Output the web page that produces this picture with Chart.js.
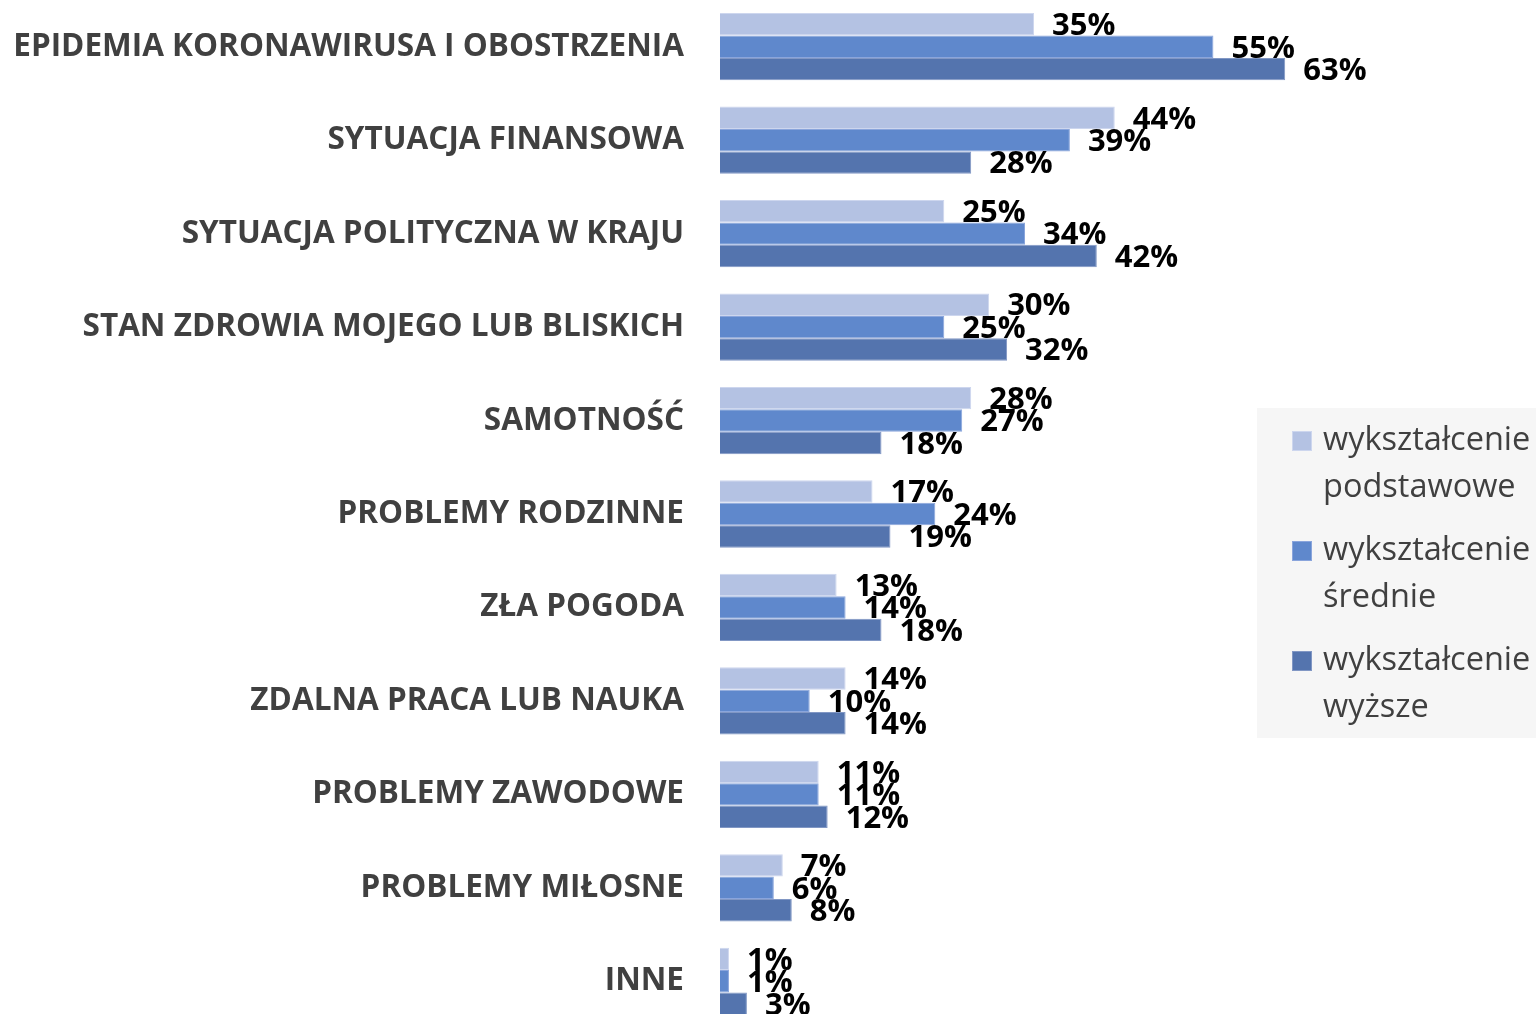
<!DOCTYPE html>
<html>
<head>
<meta charset="utf-8">
<script src="https://cdn.jsdelivr.net/npm/chart.js@4/dist/chart.umd.min.js"></script>
<style>
html,body{margin:0;padding:0;background:#fff;overflow:hidden;width:1536px;height:1014px;}
canvas{display:block;}
</style>
</head>
<body>
<canvas id="c" width="1536" height="1028"></canvas>
<script>
const categories = [
  'EPIDEMIA KORONAWIRUSA I OBOSTRZENIA',
  'SYTUACJA FINANSOWA',
  'SYTUACJA POLITYCZNA W KRAJU',
  'STAN ZDROWIA MOJEGO LUB BLISKICH',
  'SAMOTNOŚĆ',
  'PROBLEMY RODZINNE',
  'ZŁA POGODA',
  'ZDALNA PRACA LUB NAUKA',
  'PROBLEMY ZAWODOWE',
  'PROBLEMY MIŁOSNE',
  'INNE'
];
const seriesNames = ['wykształcenie podstawowe', 'wykształcenie średnie', 'wykształcenie wyższe'];
const podstawowe = [35, 44, 25, 30, 28, 17, 13, 14, 11, 7, 1];
const srednie    = [55, 39, 34, 25, 27, 24, 14, 10, 11, 6, 1];
const wyzsze     = [63, 28, 42, 32, 18, 19, 18, 14, 12, 8, 3];

const fills   = ['#b4c2e3', '#5f88cc', '#5474ae'];
const borders = ['#cdd6ee', '#8aa5dc', '#8197c4'];

const labelPlugin = {
  id: 'valueLabels',
  afterDatasetsDraw(chart) {
    const ctx = chart.ctx;
    ctx.save();
    ctx.font = 'bold 31px "Open Sans"';
    ctx.fillStyle = '#000';
    ctx.textAlign = 'left';
    ctx.textBaseline = 'middle';
    chart.data.datasets.forEach((ds, di) => {
      const meta = chart.getDatasetMeta(di);
      meta.data.forEach((bar, i) => {
        ctx.fillText(ds.data[i] + '%', bar.x + 18, bar.y + 2);
      });
    });
    ctx.restore();
  }
};

const legendPlugin = {
  id: 'boxLegend',
  afterDraw(chart) {
    const ctx = chart.ctx;
    ctx.save();
    ctx.fillStyle = '#f6f6f6';
    ctx.fillRect(1257, 408, 279, 330);
    ctx.font = '32.5px "Open Sans"';
    ctx.textAlign = 'left';
    ctx.textBaseline = 'middle';
    chart.data.datasets.forEach((ds, di) => {
      const y0 = 441 + di * 110;
      ctx.fillStyle = borders[di];
      ctx.fillRect(1292, y0 - 10, 20, 20);
      ctx.fillStyle = fills[di];
      ctx.fillRect(1293, y0 - 9, 18, 18);
      ctx.fillStyle = '#404040';
      const parts = ds.label.split(' ');
      ctx.fillText(parts[0], 1323, y0);
      ctx.fillText(parts.slice(1).join(' '), 1323, y0 + 47);
    });
    ctx.restore();
  }
};

new Chart(document.getElementById('c'), {
  type: 'bar',
  data: {
    labels: categories,
    datasets: [
      { label: seriesNames[0], data: podstawowe, backgroundColor: fills[0], borderColor: borders[0], borderWidth: 1 },
      { label: seriesNames[1], data: srednie,    backgroundColor: fills[1], borderColor: borders[1], borderWidth: 1 },
      { label: seriesNames[2], data: wyzsze,     backgroundColor: fills[2], borderColor: borders[2], borderWidth: 1 }
    ]
  },
  options: {
    indexAxis: 'y',
    responsive: false,
    animation: false,
    layout: { padding: { left: 0, right: 188, top: 0, bottom: 0 } },
    datasets: { bar: { categoryPercentage: 0.72, barPercentage: 1.0 } },
    plugins: { legend: { display: false }, tooltip: { enabled: false } },
    scales: {
      x: { display: false, min: 0, max: 70 },
      y: {
        grid: { display: false },
        border: { display: false },
        afterFit(scale) { scale.width = 720; scale.paddingTop = 0; scale.paddingBottom = 0; },
        ticks: {
          padding: 28,
          color: '#404040',
          font: { family: 'Open Sans', weight: 'bold', size: 31.5 }
        }
      }
    }
  },
  plugins: [labelPlugin, legendPlugin]
});
</script>
</body>
</html>
